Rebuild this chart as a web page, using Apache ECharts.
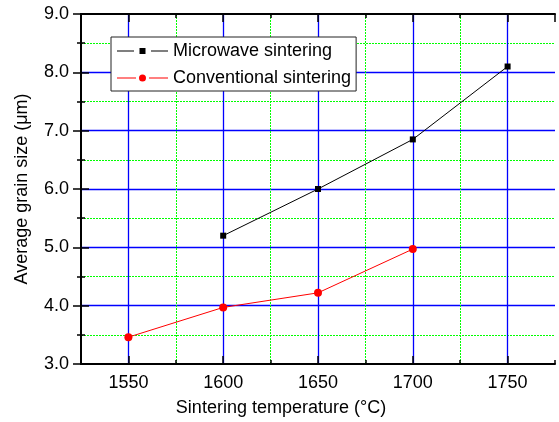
<!DOCTYPE html>
<html>
<head>
<meta charset="utf-8">
<script src="https://cdn.jsdelivr.net/npm/echarts@6/dist/echarts.min.js"></script>
<style>html,body{margin:0;padding:0;background:#fff;}#c{width:559px;height:422px;}</style>
</head>
<body>
<div id="c"></div>
<script>
const tempsMW = [1600, 1650, 1700, 1750];
const sizeMW = [5.2, 6.0, 6.85, 8.1];
const tempsCV = [1550, 1600, 1650, 1700];
const sizeCV = [3.46, 3.97, 4.22, 4.97];
const seriesNames = ['Microwave sintering', 'Conventional sintering'];
const xTitle = 'Sintering temperature (\u00B0C)';
const yTitle = 'Average grain size (\u03BCm)';
const xMin = 1525, xMax = 1775;

const FONT = '"Liberation Sans", Arial, sans-serif';
const chart = echarts.init(document.getElementById('c'), null, {renderer: 'canvas'});

const iconSquare = 'path://M0,2.5H17V3.5H0Z M22.5,0H28.5V6H22.5Z M34,2.5H51V3.5H34Z';
const iconCircle = 'path://M0,2.5H19V3.5H0Z M25.5,-0.5A3.5,3.5 0 1,1 25.5,6.5A3.5,3.5 0 1,1 25.5,-0.5Z M32,2.5H51V3.5H32Z';

const GREEN_DOT = {color: '#00ff00', type: [2, 1], width: 1};
const TICK = {color: '#000', width: 1.5};

const option = {
  backgroundColor: '#fff',
  animation: false,
  grid: {left: 81, top: 14, right: 4, bottom: 58, containLabel: false},
  legend: {
    orient: 'vertical',
    left: 111, top: 37,
    padding: [5, 5, 4, 6],
    itemGap: 9,
    itemWidth: 51, itemHeight: 7,
    backgroundColor: '#fff',
    borderColor: '#222', borderWidth: 1,
    textStyle: {fontFamily: FONT, fontSize: 18, color: '#000'},
    itemStyle: {borderWidth: 0},
    data: [
      {name: seriesNames[0], icon: iconSquare},
      {name: seriesNames[1], icon: iconCircle}
    ]
  },
  xAxis: [
    { // minor grid: offset axis (0 = xMin), lines every 50 -> 1575, 1625, ...
      type: 'value', position: 'bottom', min: 0, max: xMax - xMin, interval: 50,
      axisLine: {show: false},
      axisTick: {show: true, inside: true, length: 4, lineStyle: TICK},
      axisLabel: {show: false},
      splitLine: {show: true, showMinLine: false, showMaxLine: false, lineStyle: GREEN_DOT}
    },
    { // data axis: major blue lines, labels
      type: 'value', position: 'bottom', min: xMin, max: xMax, splitNumber: 5,
      name: xTitle, nameLocation: 'middle', nameGap: 35,
      nameTextStyle: {fontFamily: FONT, fontSize: 18, color: '#000', padding: [0, 74, 0, 0]},
      axisLine: {show: true, lineStyle: {color: '#000', width: 2}},
      axisTick: {show: true, inside: true, length: 8, lineStyle: TICK},
      axisLabel: {show: true, margin: 10, showMinLabel: false, showMaxLabel: false,
        fontFamily: FONT, fontSize: 18, color: '#000',
        formatter: v => (v % 50 === 0 ? String(v) : '')},
      splitLine: {show: true, showMinLine: false, showMaxLine: false, lineStyle: {color: '#0000ff', width: 1.3}}
    },
    {
      type: 'value', position: 'top', min: 0, max: xMax - xMin, interval: 50,
      axisLine: {show: false},
      axisTick: {show: true, inside: true, length: 4, lineStyle: TICK},
      axisLabel: {show: false}, splitLine: {show: false}
    },
    {
      type: 'value', position: 'top', min: xMin, max: xMax, splitNumber: 5,
      axisLine: {show: true, lineStyle: {color: '#000', width: 2}},
      axisTick: {show: true, inside: true, length: 8, lineStyle: TICK},
      axisLabel: {show: false}, splitLine: {show: false}
    }
  ],
  yAxis: [
    {
      type: 'value', position: 'left', min: 3, max: 9, interval: 1,
      name: yTitle, nameLocation: 'middle', nameGap: 50, nameRotate: 90,
      nameTextStyle: {fontFamily: FONT, fontSize: 18, color: '#000'},
      axisLine: {show: true, lineStyle: {color: '#000', width: 2}},
      axisTick: {show: true, inside: true, length: 8, lineStyle: TICK},
      minorTick: {show: true, splitNumber: 2, length: 4, lineStyle: TICK},
      axisLabel: {show: true, margin: 12, fontFamily: FONT, fontSize: 18, color: '#000',
        formatter: v => v.toFixed(1)},
      splitLine: {show: true, showMinLine: false, showMaxLine: false, lineStyle: {color: '#0000ff', width: 1.3}},
      minorSplitLine: {show: true, lineStyle: GREEN_DOT}
    },
    {
      type: 'value', position: 'right', min: 3, max: 9, interval: 1,
      axisLine: {show: true, lineStyle: {color: '#000', width: 2}},
      axisTick: {show: true, inside: true, length: 8, lineStyle: TICK},
      minorTick: {show: true, splitNumber: 2, length: 4, lineStyle: TICK},
      axisLabel: {show: false}, splitLine: {show: false}, minorSplitLine: {show: false}
    }
  ],
  series: [
    {
      name: seriesNames[0], type: 'line', xAxisIndex: 1, yAxisIndex: 0,
      data: tempsMW.map((t, i) => [t, sizeMW[i]]),
      symbol: 'rect', symbolSize: 6,
      lineStyle: {color: '#000', width: 1}, itemStyle: {color: '#000', borderWidth: 0},
      z: 5
    },
    {
      name: seriesNames[1], type: 'line', xAxisIndex: 1, yAxisIndex: 0,
      data: tempsCV.map((t, i) => [t, sizeCV[i]]),
      symbol: 'circle', symbolSize: 8,
      lineStyle: {color: '#ff0000', width: 1}, itemStyle: {color: '#ff0000', borderWidth: 0},
      z: 5
    }
  ]
};
chart.setOption(option);
</script>
</body>
</html>
